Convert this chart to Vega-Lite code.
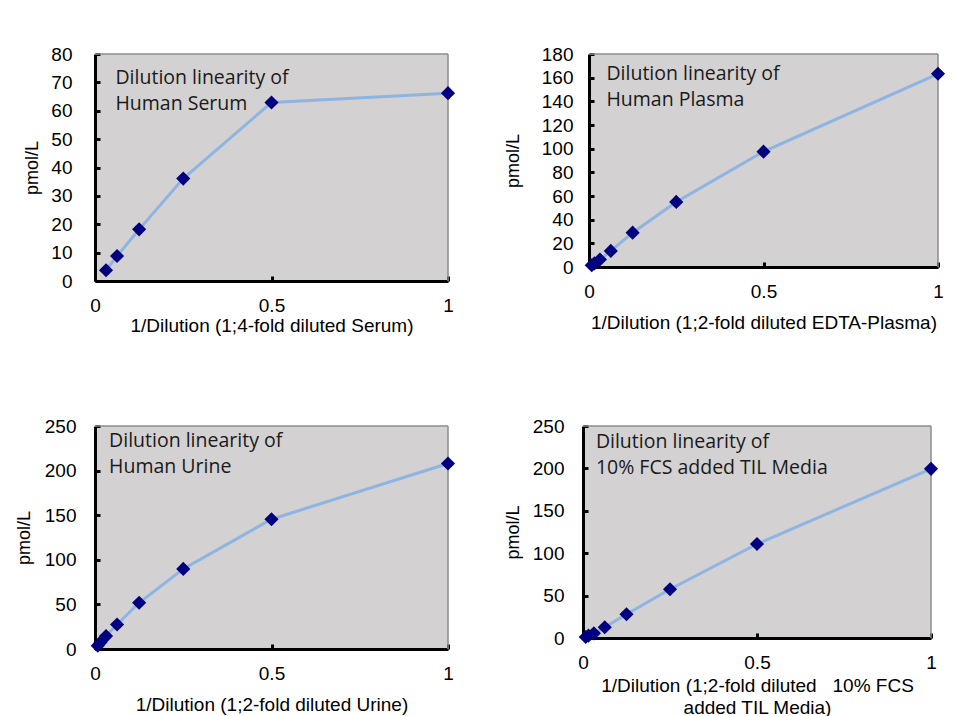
{
  "$schema": "https://vega.github.io/schema/vega-lite/v6.json",
  "padding": {"left": 15, "top": 45, "right": 0, "bottom": 0},
  "background": "white",
  "datasets": {
    "serum": [
      {"dilution": 0.03125, "pmol": 3.8},
      {"dilution": 0.0625, "pmol": 8.8},
      {"dilution": 0.125, "pmol": 18.2},
      {"dilution": 0.25, "pmol": 36.1},
      {"dilution": 0.5, "pmol": 62.9},
      {"dilution": 1, "pmol": 66.2}
    ],
    "plasma": [
      {"dilution": 0.0078125, "pmol": 1.5},
      {"dilution": 0.015625, "pmol": 3.1},
      {"dilution": 0.03125, "pmol": 6.3},
      {"dilution": 0.0625, "pmol": 13.6},
      {"dilution": 0.125, "pmol": 29},
      {"dilution": 0.25, "pmol": 55},
      {"dilution": 0.5, "pmol": 97.5},
      {"dilution": 1, "pmol": 163.3}
    ],
    "urine": [
      {"dilution": 0.0078125, "pmol": 3.6},
      {"dilution": 0.015625, "pmol": 7.5},
      {"dilution": 0.03125, "pmol": 14.5},
      {"dilution": 0.0625, "pmol": 27.5},
      {"dilution": 0.125, "pmol": 51.8},
      {"dilution": 0.25, "pmol": 89.8},
      {"dilution": 0.5, "pmol": 145.5},
      {"dilution": 1, "pmol": 208}
    ],
    "media": [
      {"dilution": 0.0078125, "pmol": 1.2},
      {"dilution": 0.015625, "pmol": 2.8},
      {"dilution": 0.03125, "pmol": 5.5},
      {"dilution": 0.0625, "pmol": 12.7},
      {"dilution": 0.125, "pmol": 28},
      {"dilution": 0.25, "pmol": 57.5},
      {"dilution": 0.5, "pmol": 110.8},
      {"dilution": 1, "pmol": 199.5}
    ]
  },
  "columns": 2,
  "align": "none",
  "spacing": {"row": 82, "column": 48},
  "concat": [
    {
      "width": 353, "height": 227,
      "data": {"name": "serum"},
      "layer": [
        {
          "mark": {"type": "line", "color": "#8DB4E2", "strokeWidth": 3},
          "encoding": {
            "x": {"field": "dilution", "type": "quantitative", "scale": {"domain": [0, 1], "nice": false},
              "axis": {"values": [0, 0.5, 1], "tickCount": 20, "format": "~g", "title": "1/Dilution (1;4-fold diluted Serum)", "titlePadding": 1}},
            "y": {"field": "pmol", "type": "quantitative", "scale": {"domain": [0, 80], "nice": false},
              "axis": {"values": [0, 10, 20, 30, 40, 50, 60, 70, 80], "tickCount": 20, "format": "d", "labelOverlap": false, "title": "pmol/L", "titlePadding": 9, "labelPadding": 28}}
          }
        },
        {
          "data": {"values": [{}]},
          "mark": {"type": "rule", "color": "#8C8C8C", "strokeWidth": 1.5},
          "encoding": {"y": {"datum": 80}}
        },
        {
          "data": {"values": [{}]},
          "mark": {"type": "rule", "color": "#8C8C8C", "strokeWidth": 1.5},
          "encoding": {"x": {"datum": 1}}
        },
        {
          "mark": {"type": "point", "shape": "diamond", "filled": true, "color": "#000080", "size": 200, "opacity": 1},
          "encoding": {
            "x": {"field": "dilution", "type": "quantitative"},
            "y": {"field": "pmol", "type": "quantitative"}
          }
        },
        {
          "data": {"values": [{}]},
          "mark": {"type": "text", "align": "left", "baseline": "alphabetic", "font": "Open Sans", "fontSize": 19.5, "lineHeight": 26, "color": "#1a1a1a"},
          "encoding": {
            "x": {"datum": 0.058},
            "y": {"datum": 69.4},
            "text": {"value": ["Dilution linearity of", "Human Serum"]}
          }
        }
      ]
    },
    {
      "width": 349, "height": 213,
      "data": {"name": "plasma"},
      "layer": [
        {
          "mark": {"type": "line", "color": "#8DB4E2", "strokeWidth": 3},
          "encoding": {
            "x": {"field": "dilution", "type": "quantitative", "scale": {"domain": [0, 1], "nice": false},
              "axis": {"values": [0, 0.5, 1], "tickCount": 20, "format": "~g", "title": "1/Dilution (1;2-fold diluted EDTA-Plasma)", "titlePadding": 12}},
            "y": {"field": "pmol", "type": "quantitative", "scale": {"domain": [0, 180], "nice": false},
              "axis": {"values": [0, 20, 40, 60, 80, 100, 120, 140, 160, 180], "tickCount": 20, "format": "d", "labelOverlap": false, "title": "pmol/L", "titlePadding": 19, "labelPadding": 21}}
          }
        },
        {
          "data": {"values": [{}]},
          "mark": {"type": "rule", "color": "#8C8C8C", "strokeWidth": 1.5},
          "encoding": {"y": {"datum": 180}}
        },
        {
          "data": {"values": [{}]},
          "mark": {"type": "rule", "color": "#8C8C8C", "strokeWidth": 1.5},
          "encoding": {"x": {"datum": 1}}
        },
        {
          "mark": {"type": "point", "shape": "diamond", "filled": true, "color": "#000080", "size": 200, "opacity": 1},
          "encoding": {
            "x": {"field": "dilution", "type": "quantitative"},
            "y": {"field": "pmol", "type": "quantitative"}
          }
        },
        {
          "data": {"values": [{}]},
          "mark": {"type": "text", "align": "left", "baseline": "alphabetic", "font": "Open Sans", "fontSize": 19.5, "lineHeight": 26, "color": "#1a1a1a"},
          "encoding": {
            "x": {"datum": 0.05},
            "y": {"datum": 158},
            "text": {"value": ["Dilution linearity of", "Human Plasma"]}
          }
        }
      ]
    },
    {
      "width": 353, "height": 223,
      "data": {"name": "urine"},
      "layer": [
        {
          "mark": {"type": "line", "color": "#8DB4E2", "strokeWidth": 3},
          "encoding": {
            "x": {"field": "dilution", "type": "quantitative", "scale": {"domain": [0, 1], "nice": false},
              "axis": {"values": [0, 0.5, 1], "tickCount": 20, "format": "~g", "title": "1/Dilution (1;2-fold diluted Urine)", "titlePadding": 12}},
            "y": {"field": "pmol", "type": "quantitative", "scale": {"domain": [0, 250], "nice": false},
              "axis": {"values": [0, 50, 100, 150, 200, 250], "tickCount": 20, "format": "d", "labelOverlap": false, "title": "pmol/L", "titlePadding": 11, "labelPadding": 24}}
          }
        },
        {
          "data": {"values": [{}]},
          "mark": {"type": "rule", "color": "#8C8C8C", "strokeWidth": 1.5},
          "encoding": {"y": {"datum": 250}}
        },
        {
          "data": {"values": [{}]},
          "mark": {"type": "rule", "color": "#8C8C8C", "strokeWidth": 1.5},
          "encoding": {"x": {"datum": 1}}
        },
        {
          "mark": {"type": "point", "shape": "diamond", "filled": true, "color": "#000080", "size": 200, "opacity": 1},
          "encoding": {
            "x": {"field": "dilution", "type": "quantitative"},
            "y": {"field": "pmol", "type": "quantitative"}
          }
        },
        {
          "data": {"values": [{}]},
          "mark": {"type": "text", "align": "left", "baseline": "alphabetic", "font": "Open Sans", "fontSize": 19.5, "lineHeight": 26, "color": "#1a1a1a"},
          "encoding": {
            "x": {"datum": 0.04},
            "y": {"datum": 226},
            "text": {"value": ["Dilution linearity of", "\u00a0Human Urine"]}
          }
        }
      ]
    },
    {
      "width": 348, "height": 212,
      "data": {"name": "media"},
      "layer": [
        {
          "mark": {"type": "line", "color": "#8DB4E2", "strokeWidth": 3},
          "encoding": {
            "x": {"field": "dilution", "type": "quantitative", "scale": {"domain": [0, 1], "nice": false},
              "axis": {"values": [0, 0.5, 1], "tickCount": 20, "format": "~g", "title": ["1/Dilution (1;2-fold diluted \u00a0 10% FCS", "added TIL Media)"], "titlePadding": 4, "titleLineHeight": 22}},
            "y": {"field": "pmol", "type": "quantitative", "scale": {"domain": [0, 250], "nice": false},
              "axis": {"values": [0, 50, 100, 150, 200, 250], "tickCount": 20, "format": "d", "labelOverlap": false, "title": "pmol/L", "titlePadding": 10, "labelPadding": 24}}
          }
        },
        {
          "data": {"values": [{}]},
          "mark": {"type": "rule", "color": "#8C8C8C", "strokeWidth": 1.5},
          "encoding": {"y": {"datum": 250}}
        },
        {
          "data": {"values": [{}]},
          "mark": {"type": "rule", "color": "#8C8C8C", "strokeWidth": 1.5},
          "encoding": {"x": {"datum": 1}}
        },
        {
          "mark": {"type": "point", "shape": "diamond", "filled": true, "color": "#000080", "size": 200, "opacity": 1},
          "encoding": {
            "x": {"field": "dilution", "type": "quantitative"},
            "y": {"field": "pmol", "type": "quantitative"}
          }
        },
        {
          "data": {"values": [{}]},
          "mark": {"type": "text", "align": "left", "baseline": "alphabetic", "font": "Open Sans", "fontSize": 19.5, "lineHeight": 26, "color": "#1a1a1a"},
          "encoding": {
            "x": {"datum": 0.037},
            "y": {"datum": 223.7},
            "text": {"value": ["Dilution linearity of", "\u00a010% FCS added TIL Media"]}
          }
        }
      ]
    }
  ],
  "config": {
    "view": {"fill": "#D3D1D1", "stroke": null},
    "axis": {
      "domainColor": "#000000", "domainWidth": 3,
      "tickColor": "#000000", "tickWidth": 3, "tickSize": -5,
      "grid": false, "labelFlush": false, "labelOverlap": false,
      "labelFont": "Liberation Sans", "labelFontSize": 19, "labelColor": "#000000", "labelPadding": 20,
      "titleFont": "Liberation Sans", "titleFontSize": 19, "titleFontWeight": "normal", "titleColor": "#000000"
    },
    "axisY": {"titleFontSize": 18}
  }
}
